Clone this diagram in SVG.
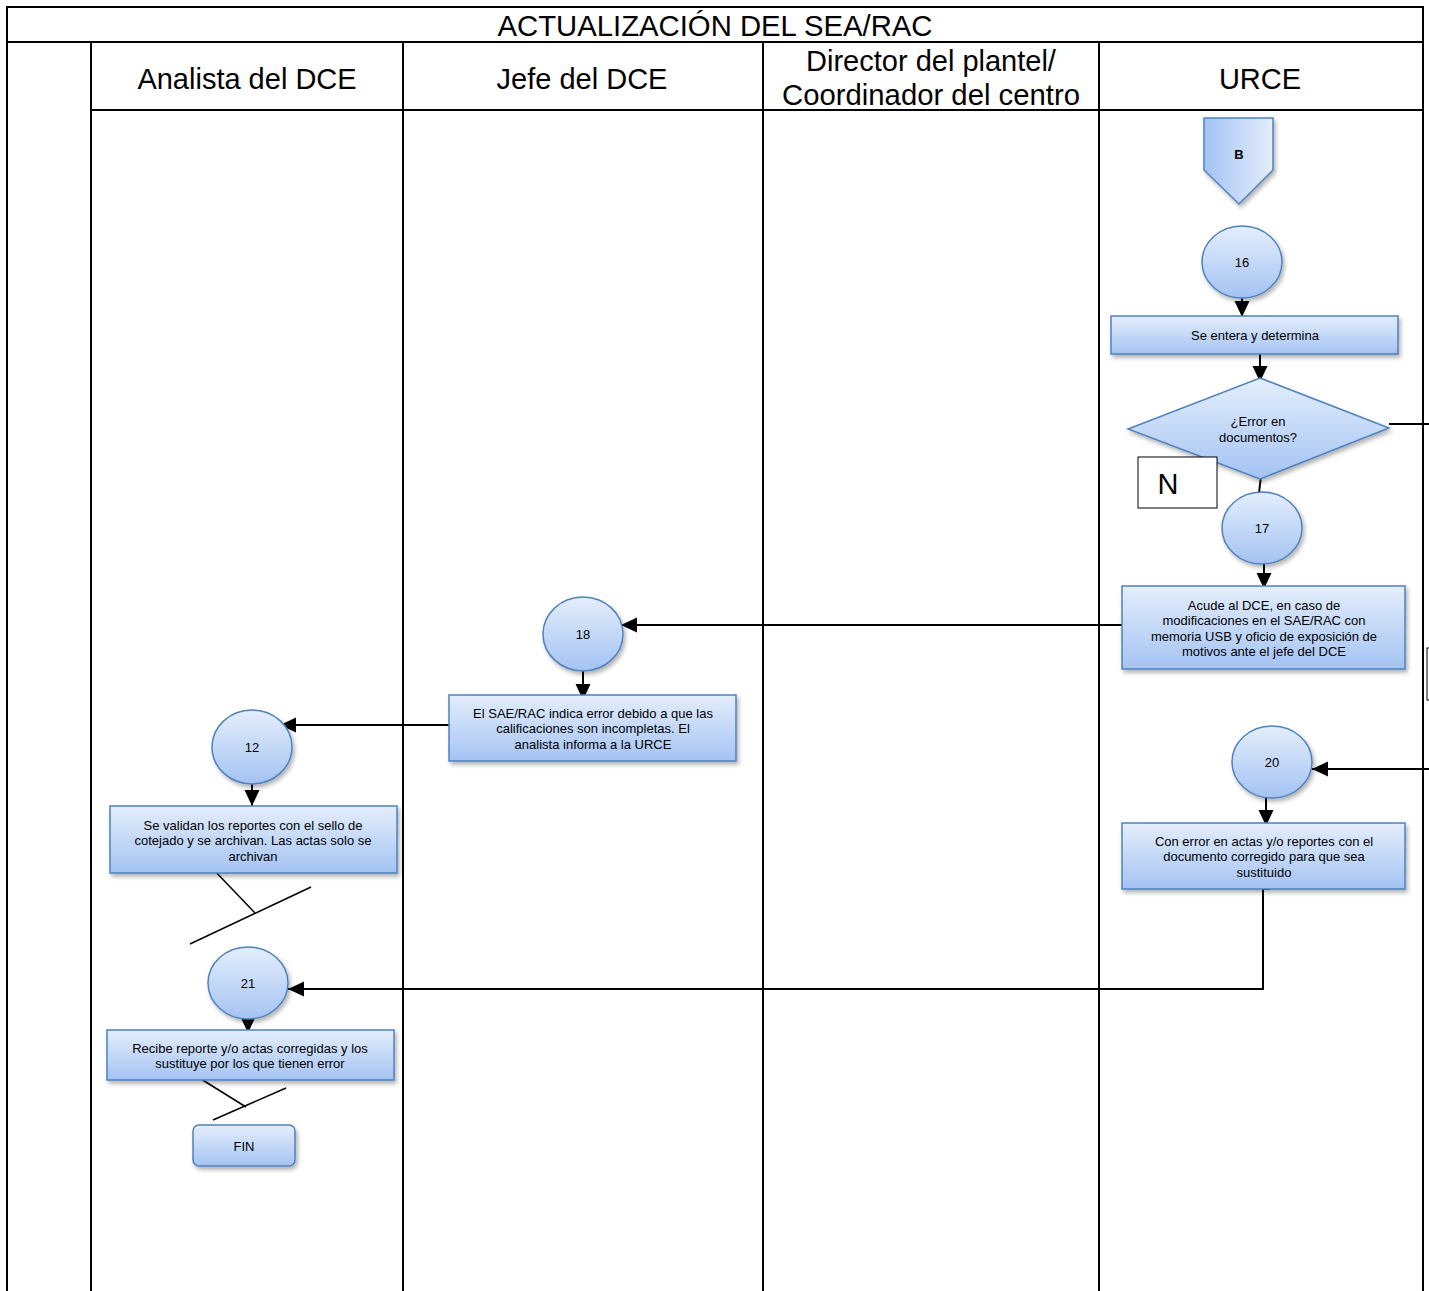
<svg xmlns="http://www.w3.org/2000/svg" width="1429" height="1291" viewBox="0 0 1429 1291">
<defs>
<linearGradient id="gv" x1="0" y1="0" x2="0" y2="1">
<stop offset="0" stop-color="#e4eefc"/>
<stop offset="1" stop-color="#a4c3f3"/>
</linearGradient>
<linearGradient id="gh" x1="0" y1="0" x2="1" y2="0">
<stop offset="0" stop-color="#a4c3f3"/>
<stop offset="1" stop-color="#e4eefc"/>
</linearGradient>
<filter id="sh" x="-10%" y="-10%" width="130%" height="140%">
<feDropShadow dx="2" dy="3" stdDeviation="2" flood-color="#000" flood-opacity="0.3"/>
</filter>
<marker id="ah" markerUnits="userSpaceOnUse" markerWidth="18" markerHeight="16" refX="16" refY="7.5" orient="auto">
<path d="M0,0 L16,7.5 L0,15 z" fill="#000"/>
</marker>
</defs>
<style>
.frame{stroke:#000;stroke-width:2;fill:none}
.node{fill:url(#gv);stroke:#4f81bd;stroke-width:1.5;filter:url(#sh)}
.conn{stroke:#000;stroke-width:2;fill:none}
.arr{marker-end:url(#ah)}
.thin{stroke:#000;stroke-width:1.5;fill:none}
.h{font-family:"Liberation Sans",Arial,sans-serif;font-size:29px;fill:#000;text-anchor:middle}
.t{font-family:"Liberation Sans",Arial,sans-serif;font-size:13px;fill:#000;text-anchor:middle}
.n{font-family:"Liberation Sans",Arial,sans-serif;font-size:13px;fill:#000;text-anchor:middle}
</style>
<rect width="1429" height="1291" fill="#fff"/>
<g id="table">
<path class="frame" d="M7,1291 V7 H1423 V1291 M7,42 H1423 M91,110 H1423 M91,42 V1291 M403,42 V1291 M763,42 V1291 M1099,42 V1291"/>
<text class="h" x="715" y="36" font-size="28" textLength="435" lengthAdjust="spacingAndGlyphs">ACTUALIZACIÓN DEL SEA/RAC</text>
<text class="h" x="247" y="89">Analista del DCE</text>
<text class="h" x="582" y="89">Jefe del DCE</text>
<text class="h" x="931" y="71" font-size="28">Director del plantel/</text>
<text class="h" x="931" y="105" font-size="28" textLength="298" lengthAdjust="spacingAndGlyphs">Coordinador del centro</text>
<text class="h" x="1260" y="89">URCE</text>
</g>
<g id="connectors">
<line class="conn arr" x1="1242" y1="295" x2="1242" y2="317"/>
<line class="conn arr" x1="1260" y1="354" x2="1260" y2="382"/>
<line class="conn" x1="1261" y1="476" x2="1259" y2="493"/>
<line class="conn arr" x1="1264" y1="562" x2="1264" y2="589"/>
<line class="conn arr" x1="1122" y1="625" x2="621" y2="625"/>
<line class="conn arr" x1="583" y1="670" x2="583" y2="700"/>
<line class="conn arr" x1="449" y1="725" x2="280" y2="725"/>
<line class="conn arr" x1="252" y1="779" x2="252" y2="806"/>
<line class="conn arr" x1="248" y1="1011" x2="248" y2="1033"/>
<line class="conn" x1="1389" y1="424" x2="1429" y2="424"/>
<line class="conn arr" x1="1429" y1="769" x2="1312" y2="769"/>
<line class="conn arr" x1="1266" y1="794" x2="1266" y2="826"/>
<path class="conn arr" d="M1270,889 H1263 V989 H288"/>
<line class="thin" x1="212" y1="868" x2="255" y2="913"/>
<line class="thin" x1="190" y1="944" x2="311" y2="887"/>
<line class="thin" x1="201" y1="1079" x2="246" y2="1107"/>
<line class="thin" x1="213" y1="1120" x2="286" y2="1088"/>
</g>
<g id="nodeB">
<path d="M1204,118 H1273 V170 L1239,204 L1204,170 Z" fill="url(#gh)" stroke="#4f81bd" stroke-width="1.5" filter="url(#sh)"/>
<text class="n" x="1239" y="159" font-weight="bold" font-size="14">B</text>
</g>
<g id="n16">
<ellipse class="node" cx="1242" cy="262" rx="40" ry="36"/>
<text class="n" x="1242" y="267">16</text>
</g>
<g id="nEntera">
<rect class="node" x="1111" y="316" width="287" height="38"/>
<text class="n" x="1255" y="340">Se entera y determina</text>
</g>
<g id="nDecision">
<path class="node" d="M1260,378 L1389,428 L1260,479 L1128,429 Z"/>
<text class="t" x="1258" y="426">¿Error en</text>
<text class="t" x="1258" y="442">documentos?</text>
</g>
<g id="nN">
<rect x="1138" y="457" width="79" height="51" fill="#fff" stroke="#000" stroke-width="1"/>
<text class="h" x="1168" y="494" font-size="26">N</text>
</g>
<g id="n17">
<ellipse class="node" cx="1262" cy="528" rx="40" ry="36"/>
<text class="n" x="1262" y="533">17</text>
</g>
<g id="nAcude">
<rect class="node" x="1122" y="586" width="283" height="83"/>
<text class="t" x="1264" y="610">Acude al DCE, en caso de</text>
<text class="t" x="1264" y="625">modificaciones en el SAE/RAC con</text>
<text class="t" x="1264" y="641">memoria USB y oficio de exposición de</text>
<text class="t" x="1264" y="656">motivos ante el jefe del DCE</text>
</g>
<g id="nEdge">
<rect x="1427" y="648" width="10" height="52" fill="none" stroke="#000" stroke-width="1"/>
</g>
<g id="n18">
<ellipse class="node" cx="583" cy="634" rx="40" ry="37"/>
<text class="n" x="583" y="639">18</text>
</g>
<g id="nSAE">
<rect class="node" x="449" y="695" width="287" height="66"/>
<text class="t" x="593" y="718">El SAE/RAC indica error debido a que las</text>
<text class="t" x="593" y="733">calificaciones son incompletas. El</text>
<text class="t" x="593" y="749">analista informa a la URCE</text>
</g>
<g id="n12">
<ellipse class="node" cx="252" cy="747" rx="40" ry="37"/>
<text class="n" x="252" y="752">12</text>
</g>
<g id="nValidan">
<rect class="node" x="110" y="806" width="287" height="67"/>
<text class="t" x="253" y="830">Se validan los reportes con el sello de</text>
<text class="t" x="253" y="845">cotejado y se archivan. Las actas solo se</text>
<text class="t" x="253" y="861">archivan</text>
</g>
<g id="n20">
<ellipse class="node" cx="1272" cy="762" rx="40" ry="36"/>
<text class="n" x="1272" y="767">20</text>
</g>
<g id="nConError">
<rect class="node" x="1122" y="823" width="283" height="66"/>
<text class="t" x="1264" y="846">Con error en actas y/o reportes con el</text>
<text class="t" x="1264" y="861">documento corregido para que sea</text>
<text class="t" x="1264" y="877">sustituido</text>
</g>
<g id="n21">
<ellipse class="node" cx="248" cy="983" rx="40" ry="36"/>
<text class="n" x="248" y="988">21</text>
</g>
<g id="nRecibe">
<rect class="node" x="107" y="1030" width="287" height="50"/>
<text class="t" x="250" y="1053">Recibe reporte y/o actas corregidas y los</text>
<text class="t" x="250" y="1068">sustituye por los que tienen error</text>
</g>
<g id="nFIN">
<rect class="node" x="193" y="1125" width="102" height="41" rx="6"/>
<text class="n" x="244" y="1151" font-size="15">FIN</text>
</g>
</svg>
